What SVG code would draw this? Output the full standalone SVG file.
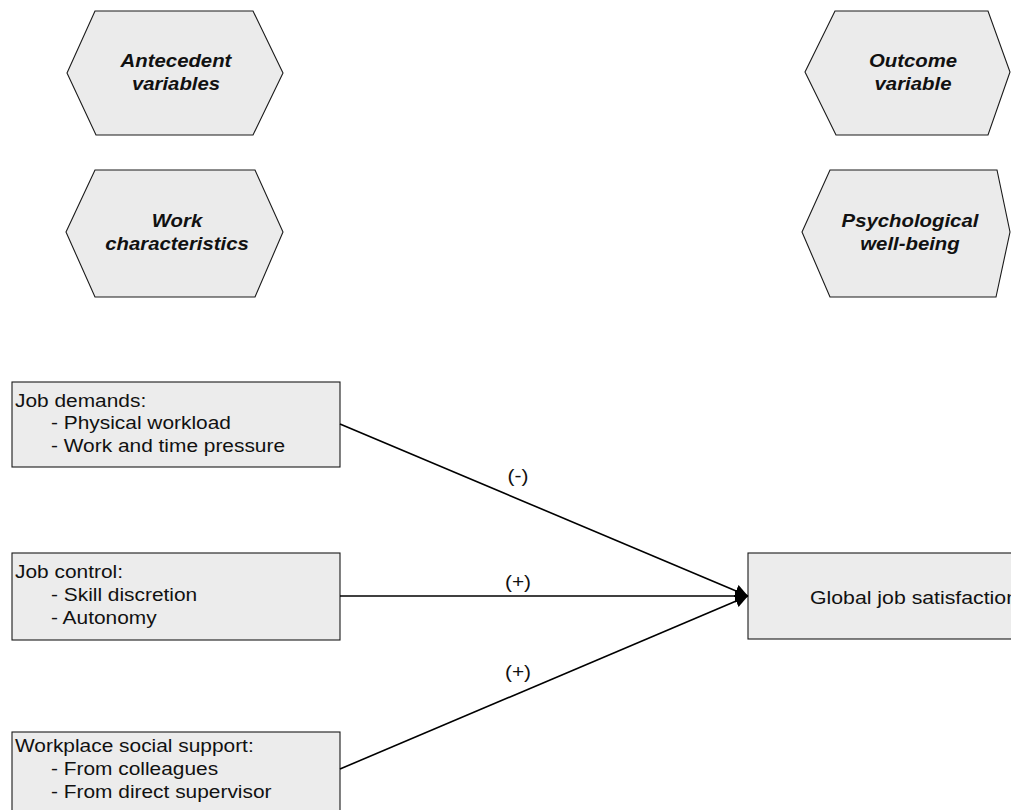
<svg xmlns="http://www.w3.org/2000/svg" width="1011" height="810" viewBox="0 0 1011 810">
  <defs>
    <style>
      .hex { fill: #ebebeb; stroke: #1a1a1a; stroke-width: 1.1; }
      .box { fill: #ececec; stroke: #1a1a1a; stroke-width: 1.1; }
      .htxt { font-family: "Liberation Sans", Arial, sans-serif; font-size: 18.5px; font-weight: bold; font-style: italic; fill: #111; text-anchor: middle; }
      .btxt { font-family: "Liberation Sans", Arial, sans-serif; font-size: 18.5px; fill: #111; }
      .lbl { font-family: "Liberation Sans", Arial, sans-serif; font-size: 19px; fill: #111; text-anchor: middle; }
      .conn { stroke: #000; stroke-width: 1.6; fill: none; marker-end: url(#arrow); }
    </style>
    <marker id="arrow" markerUnits="userSpaceOnUse" markerWidth="14" markerHeight="14" refX="13" refY="6.5" orient="auto">
      <path d="M0,0 L13,6.5 L0,13 z" fill="#000"/>
    </marker>
  </defs>
  <rect width="1011" height="810" fill="#ffffff"/>

  <g id="hex-antecedent">
    <polygon class="hex" points="95,11 253,11 283,73 253,135 96,135 67,73"/>
    <text class="htxt" transform="translate(176,67) scale(1.1,1)">Antecedent</text>
    <text class="htxt" transform="translate(176,90) scale(1.1,1)">variables</text>
  </g>
  <g id="hex-work">
    <polygon class="hex" points="95,170 255,170 283,232 255,297 95,297 66,232"/>
    <text class="htxt" transform="translate(177,227) scale(1.1,1)">Work</text>
    <text class="htxt" transform="translate(177,250) scale(1.1,1)">characteristics</text>
  </g>
  <g id="hex-outcome">
    <polygon class="hex" points="835,11 988,11 1010,72 988,135 836,135 805,72"/>
    <text class="htxt" transform="translate(913,67) scale(1.1,1)">Outcome</text>
    <text class="htxt" transform="translate(913,90) scale(1.1,1)">variable</text>
  </g>
  <g id="hex-psych">
    <polygon class="hex" points="830,170 997,170 1010,232 996,297 830,297 802,232"/>
    <text class="htxt" transform="translate(910,227) scale(1.1,1)">Psychological</text>
    <text class="htxt" transform="translate(910,250) scale(1.1,1)">well-being</text>
  </g>

  <g id="box-demands">
    <rect class="box" x="12" y="382" width="328" height="85"/>
    <text class="btxt" transform="translate(15,407) scale(1.13,1)">Job demands:</text>
    <text class="btxt" transform="translate(51,429) scale(1.13,1)">- Physical workload</text>
    <text class="btxt" transform="translate(51,452) scale(1.13,1)">- Work and time pressure</text>
  </g>
  <g id="box-control">
    <rect class="box" x="12" y="553" width="328" height="87"/>
    <text class="btxt" transform="translate(15,578) scale(1.13,1)">Job control:</text>
    <text class="btxt" transform="translate(51,601) scale(1.13,1)">- Skill discretion</text>
    <text class="btxt" transform="translate(51,624) scale(1.13,1)">- Autonomy</text>
  </g>
  <g id="box-support">
    <rect class="box" x="12" y="732" width="328" height="100"/>
    <text class="btxt" transform="translate(15,752) scale(1.13,1)">Workplace social support:</text>
    <text class="btxt" transform="translate(51,775) scale(1.13,1)">- From colleagues</text>
    <text class="btxt" transform="translate(51,798) scale(1.13,1)">- From direct supervisor</text>
  </g>
  <g id="box-satisfaction">
    <rect class="box" x="748" y="553" width="300" height="86"/>
    <text class="btxt" transform="translate(810,604) scale(1.15,1)">Global job satisfaction</text>
  </g>

  <g id="connectors">
    <line class="conn" x1="340" y1="424" x2="748" y2="596"/>
    <line class="conn" x1="340" y1="596" x2="748" y2="596"/>
    <line class="conn" x1="340" y1="769" x2="748" y2="596"/>
    <text class="lbl" transform="translate(518,482) scale(1.1,1)">(-)</text>
    <text class="lbl" transform="translate(518,588) scale(1.1,1)">(+)</text>
    <text class="lbl" transform="translate(518,678) scale(1.1,1)">(+)</text>
  </g>
</svg>
